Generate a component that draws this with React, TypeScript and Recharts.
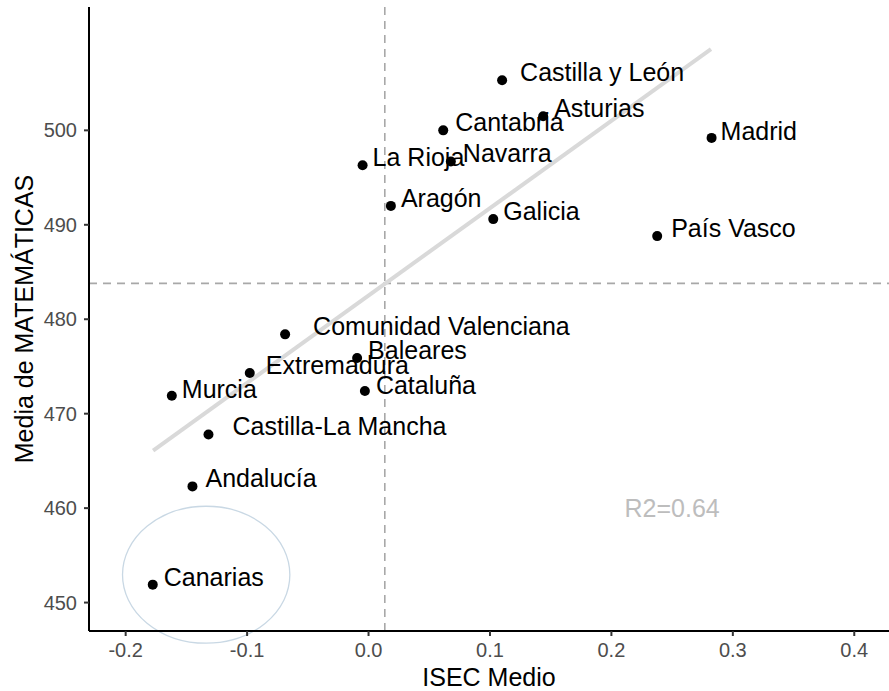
import {
  ScatterChart,
  Scatter,
  XAxis,
  YAxis,
  ReferenceLine,
  ReferenceArea,
  ReferenceDot,
} from 'recharts';

const regions = [
  'Castilla y León',
  'Asturias',
  'Cantabria',
  'Madrid',
  'La Rioja',
  'Navarra',
  'Aragón',
  'Galicia',
  'País Vasco',
  'Comunidad Valenciana',
  'Baleares',
  'Extremadura',
  'Murcia',
  'Cataluña',
  'Castilla-La Mancha',
  'Andalucía',
  'Canarias',
];
const isecMedio = [
  0.110, 0.1438, 0.0615, 0.2825, -0.0049, 0.0678, 0.0184, 0.1027, 0.2377,
  -0.0687, -0.0094, -0.0978, -0.162, -0.003, -0.1318, -0.145, -0.1777,
];
const mediaMatematicas = [
  505.3, 501.5, 500.0, 499.2, 496.3, 496.7, 492.0, 490.6, 488.8,
  478.4, 475.9, 474.3, 471.9, 472.4, 467.8, 462.3, 451.9,
];

const xTicks = [-0.2, -0.1, 0, 0.1, 0.2, 0.3, 0.4];
const yTicks = [450, 460, 470, 480, 490, 500];

// regression line end points, mean reference lines, highlighted area
const fitLine = [
  { x: -0.1774, y: 466.1 },
  { x: 0.282, y: 508.6 },
];
const meanIsec = 0.0134;
const meanMat = 483.8;
const canariasArea = { x1: -0.2026, x2: -0.0648, y1: 445.7, y2: 460.2 };
const r2Text = 'R2=0.64';
const r2Pos = { x: 0.25, y: 460 };

const data = regions.map((name, i) => ({
  name,
  isec: isecMedio[i],
  mat: mediaMatematicas[i],
}));

// label nudges in px (text start / text middle relative to the point)
const labelNudge: Record<string, [number, number]> = {
  'Castilla y León': [18, -8],
  Asturias: [11, -8],
  Cantabria: [12, -8],
  Madrid: [9, -7],
  'La Rioja': [10, -8],
  Navarra: [12, -8],
  Aragón: [10, -8],
  Galicia: [10, -8],
  'País Vasco': [14, -8],
  'Comunidad Valenciana': [28, -8],
  Baleares: [11, -8],
  Extremadura: [16, -8],
  Murcia: [10, -7],
  Cataluña: [11, -6],
  'Castilla-La Mancha': [24, -8],
  Andalucía: [13, -8],
  Canarias: [11, -8],
};

const FONT = '"Liberation Sans", Arial, Helvetica, sans-serif';

function PointWithLabel(props: any) {
  const { cx, cy, payload } = props;
  const [dx, dy] = labelNudge[payload.name] ?? [10, -8];
  return (
    <g>
      <circle cx={cx} cy={cy} r={5} fill="#000" />
      <text x={cx + dx} y={cy + dy} dy="0.355em" fontSize={25} fill="#000" fontFamily={FONT}>
        {payload.name}
      </text>
    </g>
  );
}

function YTitle(props: any) {
  const vb = props.viewBox;
  const cx = vb.x + 24.5;
  const cy = vb.y + vb.height / 2;
  return (
    <text
      x={cx}
      y={cy}
      dy="0.355em"
      textAnchor="middle"
      fontSize={25}
      fill="#000"
      fontFamily={FONT}
      transform={`rotate(-90 ${cx} ${cy})`}
    >
      Media de MATEMÁTICAS
    </text>
  );
}

export default function App() {
  return (
    <div style={{ position: 'absolute', left: 0, top: 0, fontFamily: FONT, background: '#fff' }}>
      <ScatterChart width={889} height={691} margin={{ top: 7, right: 0, bottom: 0, left: 0 }}>
        <XAxis
          type="number"
          dataKey="isec"
          domain={[-0.2302, 0.4286]}
          allowDataOverflow
          ticks={xTicks}
          tickFormatter={(v: number) => v.toFixed(1)}
          height={60}
          axisLine={{ stroke: '#000', strokeWidth: 2 }}
          tickLine={{ stroke: '#333', strokeWidth: 2 }}
          tickSize={5}
          tickMargin={7}
          tick={{ fontSize: 20, fill: '#4d4d4d' }}
          label={{ value: 'ISEC Medio', position: 'insideBottom', offset: 5, fill: '#000', fontSize: 25 }}
        />
        <YAxis
          type="number"
          dataKey="mat"
          domain={[446.99, 513.06]}
          allowDataOverflow
          ticks={yTicks}
          width={89}
          axisLine={{ stroke: '#000', strokeWidth: 2 }}
          tickLine={{ stroke: '#333', strokeWidth: 2 }}
          tickSize={5}
          tickMargin={7}
          tick={{ fontSize: 20, fill: '#4d4d4d' }}
          label={{ content: (p: any) => <YTitle {...p} /> }}
        />
        <ReferenceLine x={meanIsec} stroke="#a8a8a8" strokeWidth={1.6} strokeDasharray="8 6" />
        <ReferenceLine y={meanMat} stroke="#a8a8a8" strokeWidth={1.6} strokeDasharray="8 6" />
        <ReferenceLine segment={fitLine} stroke="#d9d9d9" strokeWidth={4} />
        <ReferenceArea
          x1={canariasArea.x1}
          x2={canariasArea.x2}
          y1={canariasArea.y1}
          y2={canariasArea.y2}
          ifOverflow="visible"
          shape={(p: any) => (
            <ellipse
              cx={p.x + p.width / 2}
              cy={p.y + p.height / 2}
              rx={Math.abs(p.width) / 2}
              ry={Math.abs(p.height) / 2}
              fill="none"
              stroke="#c9d8e4"
              strokeWidth={1.3}
            />
          )}
        />
        <ReferenceDot
          x={r2Pos.x}
          y={r2Pos.y}
          r={0}
          shape={(p: any) => (
            <text x={p.cx} y={p.cy} dy="0.355em" textAnchor="middle" fontSize={25} fill="#bdbdbd" fontFamily={FONT}>
              {r2Text}
            </text>
          )}
        />
        <Scatter data={data} shape={<PointWithLabel />} isAnimationActive={false} />
      </ScatterChart>
    </div>
  );
}
